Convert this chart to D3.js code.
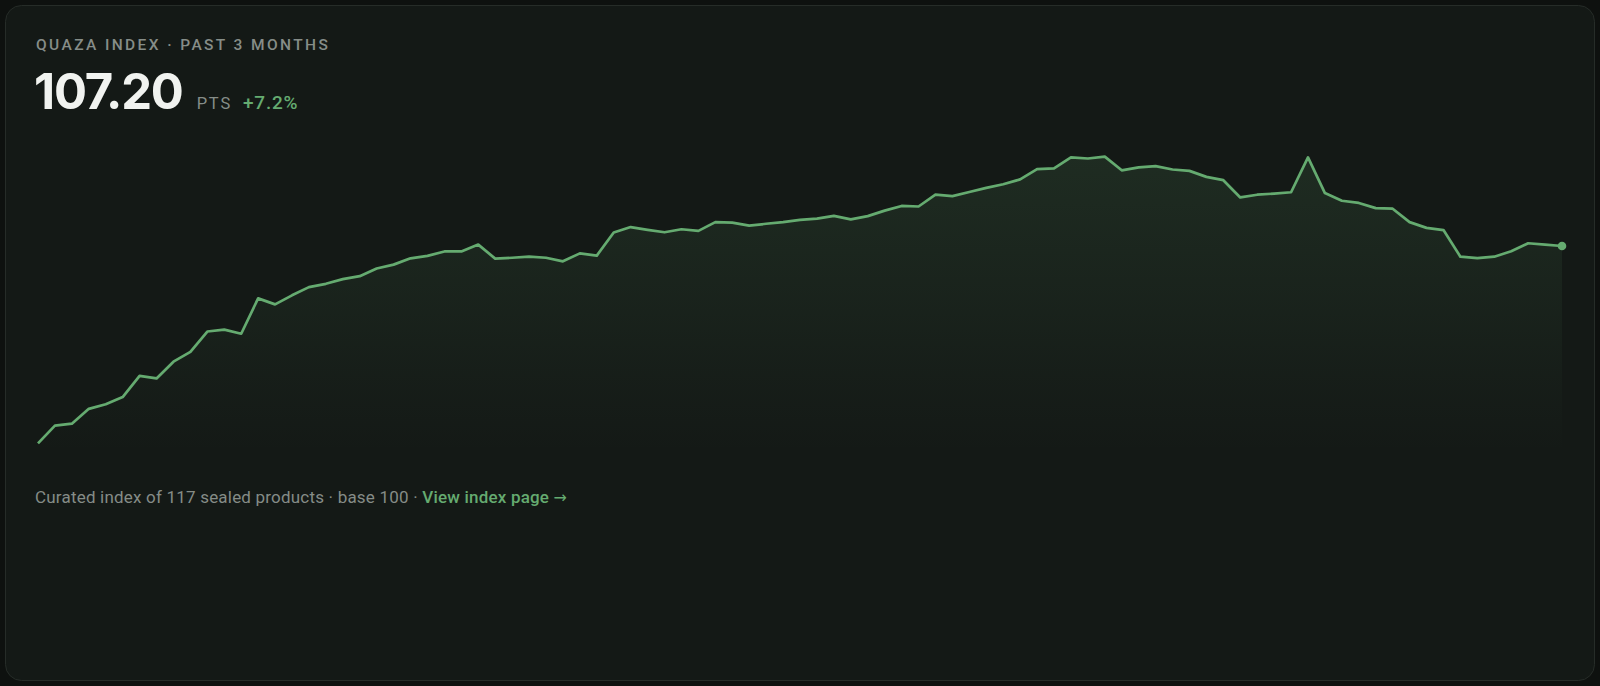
<!DOCTYPE html>
<html>
<head>
<meta charset="utf-8">
<script src="https://cdn.jsdelivr.net/npm/d3@7"></script>
<style>
  html, body { margin: 0; padding: 0; background: #0e110f; }
  svg { display: block; }
</style>
</head>
<body>
<script>
// daily index values, past 3 months (base 100)
var values = [
  100.00, 100.65, 100.72, 101.26, 101.43, 101.69, 102.46, 102.37, 102.98, 103.34,
  104.08, 104.15, 104.00, 105.29, 105.07, 105.40, 105.70, 105.82, 105.99, 106.10,
  106.38, 106.52, 106.75, 106.84, 107.00, 107.00, 107.25, 106.74, 106.77, 106.81,
  106.77, 106.64, 106.93, 106.85, 107.69, 107.89, 107.79, 107.70, 107.81, 107.75,
  108.07, 108.05, 107.94, 108.01, 108.07, 108.15, 108.20, 108.30, 108.17, 108.29,
  108.49, 108.66, 108.64, 109.07, 109.02, 109.17, 109.32, 109.45, 109.63, 110.00,
  110.03, 110.43, 110.39, 110.46, 109.96, 110.07, 110.11, 109.99, 109.94, 109.72,
  109.60, 108.97, 109.07, 109.11, 109.16, 110.43, 109.13, 108.85, 108.77, 108.58,
  108.56, 108.07, 107.86, 107.78, 106.81, 106.76, 106.81, 107.01, 107.30, 107.25,
  107.20
];

var title = "QUAZA INDEX · PAST 3 MONTHS",
    unit = "PTS",
    productCount = 117,
    base = 100;

var width = 1600,
    height = 686,
    green = "#65ab70";

var last = values[values.length - 1],
    change = (last - values[0]) / values[0] * 100;

var svg = d3.select("body").append("svg")
    .attr("width", width)
    .attr("height", height);

var grad = svg.append("defs").append("linearGradient")
    .attr("id", "fade")
    .attr("x1", 0).attr("y1", 0)
    .attr("x2", 0).attr("y2", 1);
grad.append("stop").attr("offset", 0).attr("stop-color", green).attr("stop-opacity", 0.13);
grad.append("stop").attr("offset", 1).attr("stop-color", green).attr("stop-opacity", 0);

// card
svg.append("rect")
    .attr("x", 5.5).attr("y", 5.5)
    .attr("width", width - 11).attr("height", height - 11)
    .attr("rx", 16)
    .attr("fill", "#141916")
    .attr("stroke", "#262c28");

// header
svg.append("text")
    .attr("x", 36).attr("y", 50)
    .attr("font-family", "Roboto")
    .attr("font-weight", 500)
    .attr("font-size", 15.5)
    .attr("letter-spacing", 2.4)
    .attr("fill", "#868d88")
    .text(title);

var head = svg.append("text")
    .attr("x", 34).attr("y", 109);
head.append("tspan")
    .attr("font-family", "Inter")
    .attr("font-weight", 700)
    .attr("font-size", 49)
    .attr("letter-spacing", -1.2)
    .attr("fill", "#f1f3f0")
    .text(last.toFixed(2));
head.append("tspan")
    .attr("dx", 14)
    .attr("font-family", "Roboto")
    .attr("font-size", 16.5)
    .attr("letter-spacing", 1.8)
    .attr("fill", "#868d88")
    .text(unit);
head.append("tspan")
    .attr("dx", 11)
    .attr("font-family", "Roboto")
    .attr("font-weight", 500)
    .attr("font-size", 19)
    .attr("letter-spacing", 0.8)
    .attr("fill", green)
    .text((change >= 0 ? "+" : "") + change.toFixed(1) + "%");

// chart
var x = d3.scaleLinear()
    .domain([0, values.length - 1])
    .range([38, 1562]);

var ext = d3.extent(values),
    pad = (ext[1] - ext[0]) * 0.03;

var y = d3.scaleLinear()
    .domain([ext[0] - pad, ext[1] + pad])
    .range([452, 148]);

var area = d3.area()
    .x(function(d, i) { return x(i); })
    .y0(y.range()[0])
    .y1(function(d) { return y(d); });

var line = d3.line()
    .x(function(d, i) { return x(i); })
    .y(function(d) { return y(d); });

svg.append("path")
    .datum(values)
    .attr("d", area)
    .attr("fill", "url(#fade)");

svg.append("path")
    .datum(values)
    .attr("d", line)
    .attr("fill", "none")
    .attr("stroke", green)
    .attr("stroke-width", 2.7)
    .attr("stroke-linejoin", "round");

svg.append("circle")
    .attr("cx", x(values.length - 1))
    .attr("cy", y(last))
    .attr("r", 4.3)
    .attr("fill", green);

// footer
var foot = svg.append("text")
    .attr("x", 35).attr("y", 503)
    .attr("font-family", "Roboto")
    .attr("font-size", 17)
    .attr("letter-spacing", 0.2)
    .attr("fill", "#858c87");
foot.append("tspan")
    .text("Curated index of " + productCount + " sealed products · base " + base + " · ");
foot.append("tspan")
    .attr("font-weight", 500)
    .attr("fill", green)
    .text("View index page ");
foot.append("tspan")
    .attr("font-family", "DejaVu Sans")
    .attr("font-size", 16)
    .attr("fill", green)
    .text("→");
</script>
</body>
</html>
